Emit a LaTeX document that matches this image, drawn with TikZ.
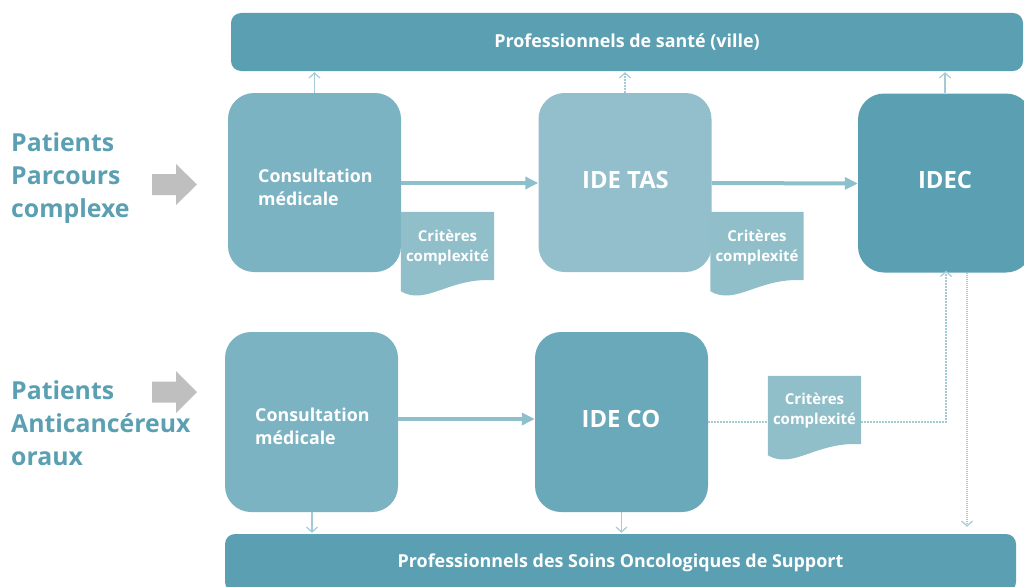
\documentclass[tikz,border=0pt]{standalone}
\usepackage{fontspec}
\setmainfont{Open Sans}
\usetikzlibrary{arrows.meta,calc}
\definecolor{tealdark}{HTML}{5BA0B2}
\definecolor{tealmid}{HTML}{7BB3C2}
\definecolor{teallight}{HTML}{92BFCB}
\definecolor{tealco}{HTML}{69A9BA}
\definecolor{docfill}{HTML}{90BFCA}
\definecolor{connc}{HTML}{8DC0CC}
\definecolor{thinc}{HTML}{A3CAD5}
\definecolor{graya}{HTML}{BFBFBF}
\begin{document}
\begin{tikzpicture}[x=1pt,y=-1pt,
  bar/.style={fill=tealdark, rounded corners=10pt, inner sep=0pt, text=white,
    font=\bfseries\fontsize{17.9}{20}\selectfont},
  bigbox/.style={rounded corners=26pt, minimum width=173pt, minimum height=179pt, inner sep=0pt},
  boxtext/.style={text=white, align=left, inner sep=0pt, font=\bfseries\fontsize{17.8}{23}\selectfont},
  idetext/.style={text=white, inner sep=0pt, font=\bfseries\fontsize{23.8}{26}\selectfont},
  docbox/.style={minimum width=93pt, minimum height=68pt, inner sep=0pt},
  doctext/.style={text=white, align=center, inner sep=0pt, font=\bfseries\fontsize{15}{19.5}\selectfont},
  sidetext/.style={text=tealdark, align=left, inner sep=0pt, anchor=base west,
    font=\bfseries\fontsize{24.8}{33}\selectfont},
  conn/.style={draw=connc, line width=4pt, -{Triangle[length=13pt,width=12pt]}},
  thinconn/.style={draw=thinc, line width=1.2pt, -{Straight Barb[length=5pt,width=11pt,line width=1.2pt]}},
  dashconn/.style={thinconn, dash pattern=on 2pt off 1pt},
  dotconn/.style={thinconn, dash pattern=on 1pt off 1pt},
]
\useasboundingbox (0,0) rectangle (1024,586);
\clip (0,0) rectangle (1024,586);

% bars
\node[bar, minimum width=792pt, minimum height=58pt] (top) at (627,42) {Professionnels de santé (ville)};
\node[bar, minimum width=791pt, minimum height=58pt] (bot) at (620.5,563) {Professionnels des Soins Oncologiques de Support};

% big boxes
\node[bigbox, fill=tealmid] (b1) at (314.5,182.5) {};
\node[bigbox, fill=teallight] (b2) at (625,182.5) {};
\node[bigbox, fill=tealdark, minimum width=174pt] (b3) at (945,183) {};
\node[bigbox, fill=tealmid, minimum height=180pt] (b4) at (311.5,422) {};
\node[bigbox, fill=tealco, minimum height=180pt] (b5) at (621.5,422) {};

\node[boxtext, anchor=base west] (t1) at (258,205) {Consultation\\médicale};
\node[boxtext, anchor=base west] (t4) at (255,444) {Consultation\\médicale};
\node[idetext] (t2) at (625.5,180) {IDE TAS};
\node[idetext] (t3) at (945,180) {IDEC};
\node[idetext] (t5) at (621,419) {IDE CO};

% document nodes (placeholders)
\node[docbox] (c1) at (447.5,246) {};
\node[docbox] (c2) at (757,246) {};
\node[docbox] (c3) at (814.5,410) {};

% connectors
\draw[conn] ([yshift=-0.5pt]b1.east) -- ([yshift=-0.5pt]b2.west);
\draw[conn] ([yshift=-0.5pt]b2.east) -- ([yshift=-0.5pt]b3.west);
\draw[conn] ([yshift=3pt]b4.east) -- ([yshift=3pt]b5.west);

\draw[thinconn, shorten >=1pt] (b1.north) -- (b1.north |- top.south);
\draw[dashconn, shorten >=1pt] (b2.north) -- (b2.north |- top.south);
\draw[thinconn, shorten >=1pt] (b3.north) -- (b3.north |- top.south);
\draw[thinconn, shorten >=1pt] ([xshift=0.5pt]b4.south) -- ([xshift=0.5pt]b4.south |- bot.north);
\draw[thinconn, shorten >=1pt] (b5.south) -- (b5.south |- bot.north);

\draw[dashconn, shorten >=-2pt] (b5.east) -| ([xshift=1pt]b3.south);
\draw[dotconn, shorten >=7pt] ([xshift=22pt]b3.south) -- ([xshift=22pt]b3.south |- bot.north);

% document shapes
\foreach \c in {c1,c2,c3}{
  \fill[docfill] (\c.north west) -- (\c.north east) -- (\c.south east)
    .. controls ([shift={(-45,-3)}]\c.south east) and ([shift={(25,26)}]\c.south west)
    .. ([shift={(0,11)}]\c.south west) -- cycle;
}
\node[doctext] (d1) at ([yshift=-1.5pt]c1) {Critères\\complexité};
\node[doctext] (d2) at ([yshift=-1.5pt]c2) {Critères\\complexité};
\node[doctext] (d3) at ([yshift=-0.5pt]c3) {Critères\\complexité};

% side labels
\node[sidetext] (s1) at (11,217.5) {Patients\\Parcours\\complexe};
\node[sidetext] (s2) at (11,465) {Patients\\Anticancéreux\\oraux};

% grey block arrows
\fill[graya] (152,174) -- (176,174) -- (176,164) -- (197,184.5) -- (176,205) -- (176,195) -- (152,195) -- cycle;
\fill[graya] (152,381.5) -- (176,381.5) -- (176,371) -- (197,392) -- (176,413) -- (176,402.5) -- (152,402.5) -- cycle;
\end{tikzpicture}
\end{document}
